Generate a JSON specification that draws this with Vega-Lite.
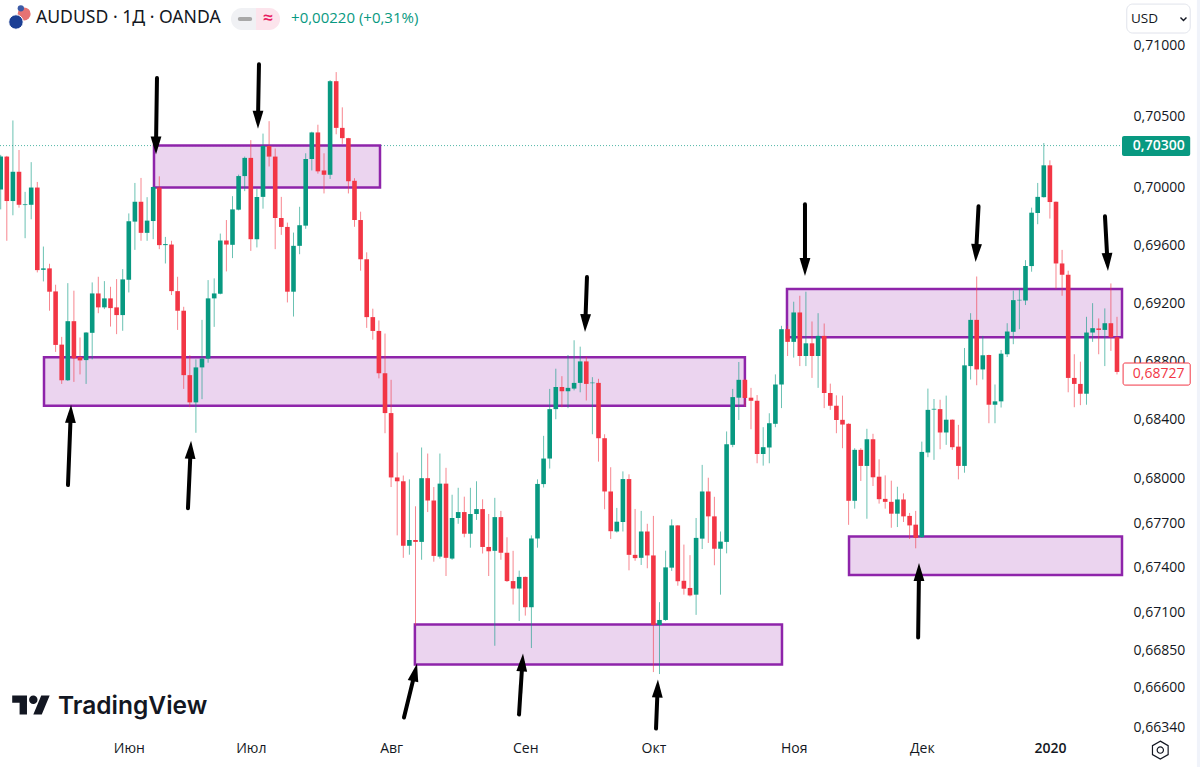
{"$schema":"https://vega.github.io/schema/vega-lite/v6.json","width":1122,"height":736,"autosize":{"type":"none"},"padding":{"left":0,"top":0,"right":78,"bottom":31},"background":"#ffffff","config":{"view":{"stroke":null},"text":{"font":"Open Sans"},"axis":{"labelFont":"Open Sans","labelFontSize":14,"labelColor":"#131722","domain":false,"ticks":false,"grid":false}},
"datasets":{"candles":[
{"i":0,"o":0.69986,"h":0.70228,"l":0.69848,"c":0.70216},{"i":1,"o":0.70216,"h":0.70221,"l":0.6963,"c":0.69906},{"i":2,"o":0.69906,"h":0.70469,"l":0.69807,"c":0.7011},{"i":3,"o":0.7011,"h":0.70262,"l":0.6986,"c":0.6988},{"i":4,"o":0.69878,"h":0.6997,"l":0.69648,"c":0.69883},{"i":5,"o":0.6988,"h":0.70177,"l":0.69779,"c":0.7},{"i":6,"o":0.7,"h":0.70039,"l":0.69411,"c":0.69427},{"i":7,"o":0.69429,"h":0.6959,"l":0.69349,"c":0.69439},{"i":8,"o":0.69439,"h":0.69471,"l":0.69147,"c":0.69278},{"i":9,"o":0.6928,"h":0.69326,"l":0.68864,"c":0.68912},
{"i":10,"o":0.68914,"h":0.68967,"l":0.68645,"c":0.6867},{"i":11,"o":0.6867,"h":0.69337,"l":0.68665,"c":0.69075},{"i":12,"o":0.69075,"h":0.69285,"l":0.68659,"c":0.6882},{"i":13,"o":0.68829,"h":0.68963,"l":0.6871,"c":0.68806},{"i":14,"o":0.68808,"h":0.69,"l":0.68645,"c":0.68997},{"i":15,"o":0.68995,"h":0.69342,"l":0.68813,"c":0.69266},{"i":16,"o":0.69266,"h":0.69381,"l":0.6913,"c":0.6917},{"i":17,"o":0.6917,"h":0.69351,"l":0.69158,"c":0.69232},{"i":18,"o":0.69232,"h":0.69312,"l":0.69038,"c":0.69165},{"i":19,"o":0.6917,"h":0.69365,"l":0.68986,"c":0.69117},
{"i":20,"o":0.69117,"h":0.69434,"l":0.69009,"c":0.69363},{"i":21,"o":0.6936,"h":0.6982,"l":0.69273,"c":0.69765},{"i":22,"o":0.69763,"h":0.70032,"l":0.69567,"c":0.69901},{"i":23,"o":0.69901,"h":0.70067,"l":0.6963,"c":0.69685},{"i":24,"o":0.69685,"h":0.69933,"l":0.6963,"c":0.6977},{"i":25,"o":0.69767,"h":0.70009,"l":0.69641,"c":0.70004},{"i":26,"o":0.7,"h":0.70078,"l":0.69572,"c":0.696},{"i":27,"o":0.696,"h":0.69657,"l":0.69473,"c":0.69607},{"i":28,"o":0.69604,"h":0.6963,"l":0.69255,"c":0.69282},{"i":29,"o":0.69282,"h":0.69381,"l":0.69015,"c":0.69147},
{"i":30,"o":0.69147,"h":0.69174,"l":0.68611,"c":0.68705},{"i":31,"o":0.68705,"h":0.68841,"l":0.68486,"c":0.68519},{"i":32,"o":0.68519,"h":0.68813,"l":0.68312,"c":0.68758},{"i":33,"o":0.68758,"h":0.69084,"l":0.68541,"c":0.68818},{"i":34,"o":0.68818,"h":0.69358,"l":0.6879,"c":0.69232},{"i":35,"o":0.69232,"h":0.6937,"l":0.69036,"c":0.69266},{"i":36,"o":0.69264,"h":0.6968,"l":0.6926,"c":0.69632},{"i":37,"o":0.69632,"h":0.69774,"l":0.69418,"c":0.69604},{"i":38,"o":0.69602,"h":0.6994,"l":0.6951,"c":0.69848},{"i":39,"o":0.69846,"h":0.7009,"l":0.69841,"c":0.7008},
{"i":40,"o":0.7008,"h":0.70216,"l":0.69975,"c":0.70207},{"i":41,"o":0.70207,"h":0.70331,"l":0.6956,"c":0.69641},{"i":42,"o":0.69641,"h":0.69991,"l":0.69584,"c":0.69935},{"i":43,"o":0.69935,"h":0.70377,"l":0.69853,"c":0.7029},{"i":44,"o":0.7029,"h":0.70464,"l":0.70147,"c":0.70216},{"i":45,"o":0.70216,"h":0.70273,"l":0.69572,"c":0.69788},{"i":46,"o":0.69788,"h":0.69935,"l":0.69671,"c":0.69726},{"i":47,"o":0.69726,"h":0.69756,"l":0.69204,"c":0.69278},{"i":48,"o":0.69278,"h":0.69687,"l":0.69107,"c":0.69595},{"i":49,"o":0.69595,"h":0.69866,"l":0.69537,"c":0.69738},
{"i":50,"o":0.69735,"h":0.70239,"l":0.69713,"c":0.70199},{"i":51,"o":0.70199,"h":0.7039,"l":0.70119,"c":0.70385},{"i":52,"o":0.70385,"h":0.70439,"l":0.70097,"c":0.70113},{"i":53,"o":0.70119,"h":0.70239,"l":0.69959,"c":0.70089},{"i":54,"o":0.70089,"h":0.70753,"l":0.7006,"c":0.70745},{"i":55,"o":0.70745,"h":0.70809,"l":0.70372,"c":0.70417},{"i":56,"o":0.70417,"h":0.70561,"l":0.70305,"c":0.70345},{"i":57,"o":0.70345,"h":0.70347,"l":0.69959,"c":0.70044},{"i":58,"o":0.70047,"h":0.70065,"l":0.69727,"c":0.69774},{"i":59,"o":0.69774,"h":0.69832,"l":0.69423,"c":0.69502},
{"i":60,"o":0.69502,"h":0.6955,"l":0.69029,"c":0.69103},{"i":61,"o":0.69103,"h":0.69161,"l":0.68948,"c":0.69008},{"i":62,"o":0.69008,"h":0.6908,"l":0.68683,"c":0.68718},{"i":63,"o":0.68718,"h":0.6899,"l":0.68309,"c":0.68446},{"i":64,"o":0.68446,"h":0.68673,"l":0.67944,"c":0.68009},{"i":65,"o":0.68009,"h":0.68178,"l":0.67618,"c":0.67983},{"i":66,"o":0.67983,"h":0.68022,"l":0.67467,"c":0.67548},{"i":67,"o":0.67548,"h":0.67996,"l":0.67488,"c":0.67587},{"i":68,"o":0.67587,"h":0.67814,"l":0.67015,"c":0.67574},{"i":69,"o":0.67574,"h":0.68212,"l":0.67454,"c":0.68004},
{"i":70,"o":0.68004,"h":0.68171,"l":0.67775,"c":0.67853},{"i":71,"o":0.67853,"h":0.67944,"l":0.67441,"c":0.6748},{"i":72,"o":0.67475,"h":0.68171,"l":0.67462,"c":0.67967},{"i":73,"o":0.67967,"h":0.68074,"l":0.67345,"c":0.67467},{"i":74,"o":0.67462,"h":0.67892,"l":0.67454,"c":0.67735},{"i":75,"o":0.67735,"h":0.67939,"l":0.67696,"c":0.67775},{"i":76,"o":0.67775,"h":0.67879,"l":0.67605,"c":0.67629},{"i":77,"o":0.67629,"h":0.67939,"l":0.67535,"c":0.67762},{"i":78,"o":0.67762,"h":0.67983,"l":0.67722,"c":0.67795},{"i":79,"o":0.67795,"h":0.67861,"l":0.67496,"c":0.6754},
{"i":80,"o":0.6754,"h":0.67762,"l":0.67345,"c":0.67511},{"i":81,"o":0.67514,"h":0.67871,"l":0.66879,"c":0.67741},{"i":82,"o":0.67741,"h":0.67783,"l":0.67454,"c":0.67501},{"i":83,"o":0.67501,"h":0.67605,"l":0.67305,"c":0.67311},{"i":84,"o":0.67311,"h":0.67514,"l":0.67154,"c":0.67261},{"i":85,"o":0.67261,"h":0.67381,"l":0.67044,"c":0.67339},{"i":86,"o":0.67339,"h":0.67341,"l":0.6708,"c":0.67136},{"i":87,"o":0.67136,"h":0.67618,"l":0.66864,"c":0.67597},{"i":88,"o":0.67597,"h":0.67996,"l":0.67535,"c":0.67965},{"i":89,"o":0.67964,"h":0.68291,"l":0.67941,"c":0.68137},
{"i":90,"o":0.68137,"h":0.68611,"l":0.68069,"c":0.68473},{"i":91,"o":0.68473,"h":0.68749,"l":0.68404,"c":0.68624},{"i":92,"o":0.68624,"h":0.68698,"l":0.68486,"c":0.68595},{"i":93,"o":0.68595,"h":0.68843,"l":0.6848,"c":0.68618},{"i":94,"o":0.68613,"h":0.68944,"l":0.68601,"c":0.68652},{"i":95,"o":0.68652,"h":0.689,"l":0.68588,"c":0.68799},{"i":96,"o":0.68799,"h":0.68831,"l":0.68532,"c":0.68645},{"i":97,"o":0.6865,"h":0.68691,"l":0.68302,"c":0.68654},{"i":98,"o":0.68652,"h":0.6868,"l":0.68116,"c":0.68275},{"i":99,"o":0.68275,"h":0.68302,"l":0.67794,"c":0.67914},
{"i":100,"o":0.67914,"h":0.68078,"l":0.67594,"c":0.67646},{"i":101,"o":0.67644,"h":0.67803,"l":0.67637,"c":0.6771},{"i":102,"o":0.67708,"h":0.6805,"l":0.67644,"c":0.67998},{"i":103,"o":0.67998,"h":0.6803,"l":0.67383,"c":0.67487},{"i":104,"o":0.67487,"h":0.67796,"l":0.67447,"c":0.67465},{"i":105,"o":0.67467,"h":0.67783,"l":0.67419,"c":0.67644},{"i":106,"o":0.67644,"h":0.67696,"l":0.67397,"c":0.67483},{"i":107,"o":0.67483,"h":0.67749,"l":0.66704,"c":0.67018},{"i":108,"o":0.67018,"h":0.6717,"l":0.66691,"c":0.67051},{"i":109,"o":0.67051,"h":0.67515,"l":0.67045,"c":0.67403},
{"i":110,"o":0.67401,"h":0.67726,"l":0.67379,"c":0.67685},{"i":111,"o":0.67685,"h":0.67687,"l":0.6728,"c":0.6731},{"i":112,"o":0.67313,"h":0.67556,"l":0.6722,"c":0.6726},{"i":113,"o":0.67265,"h":0.67485,"l":0.67208,"c":0.67215},{"i":114,"o":0.6722,"h":0.67735,"l":0.67085,"c":0.67601},{"i":115,"o":0.67596,"h":0.68094,"l":0.67526,"c":0.67914},{"i":116,"o":0.67914,"h":0.68007,"l":0.67567,"c":0.67746},{"i":117,"o":0.67746,"h":0.67878,"l":0.67417,"c":0.67528},{"i":118,"o":0.67528,"h":0.67644,"l":0.6722,"c":0.67576},{"i":119,"o":0.67574,"h":0.68321,"l":0.67497,"c":0.68234},
{"i":120,"o":0.6823,"h":0.68611,"l":0.68214,"c":0.68555},{"i":121,"o":0.68551,"h":0.68795,"l":0.68399,"c":0.68673},{"i":122,"o":0.68673,"h":0.6868,"l":0.68491,"c":0.68549},{"i":123,"o":0.68551,"h":0.68618,"l":0.68336,"c":0.6853},{"i":124,"o":0.6853,"h":0.68569,"l":0.68105,"c":0.68168},{"i":125,"o":0.68168,"h":0.6835,"l":0.68089,"c":0.68214},{"i":126,"o":0.68212,"h":0.68445,"l":0.68105,"c":0.68377},{"i":127,"o":0.68373,"h":0.6871,"l":0.6835,"c":0.68641},{"i":128,"o":0.68641,"h":0.69043,"l":0.6848,"c":0.6902},{"i":129,"o":0.6902,"h":0.69043,"l":0.68836,"c":0.68933},
{"i":130,"o":0.68933,"h":0.69209,"l":0.68825,"c":0.69135},{"i":131,"o":0.69135,"h":0.6925,"l":0.68767,"c":0.68836},{"i":132,"o":0.68836,"h":0.69278,"l":0.68767,"c":0.68923},{"i":133,"o":0.68923,"h":0.69073,"l":0.68686,"c":0.68836},{"i":134,"o":0.68836,"h":0.6913,"l":0.68618,"c":0.68974},{"i":135,"o":0.68974,"h":0.69059,"l":0.6848,"c":0.68583},{"i":136,"o":0.68583,"h":0.68647,"l":0.68468,"c":0.68496},{"i":137,"o":0.68496,"h":0.68567,"l":0.68309,"c":0.68399},{"i":138,"o":0.684,"h":0.68565,"l":0.68207,"c":0.68368},{"i":139,"o":0.68373,"h":0.68377,"l":0.67689,"c":0.67851},
{"i":140,"o":0.67851,"h":0.68207,"l":0.67798,"c":0.68196},{"i":141,"o":0.68196,"h":0.68207,"l":0.67985,"c":0.68087},{"i":142,"o":0.68087,"h":0.68339,"l":0.6773,"c":0.68268},{"i":143,"o":0.68268,"h":0.68305,"l":0.67951,"c":0.6801},{"i":144,"o":0.68014,"h":0.68132,"l":0.67832,"c":0.67862},{"i":145,"o":0.67864,"h":0.68023,"l":0.67798,"c":0.67844},{"i":146,"o":0.67844,"h":0.67987,"l":0.67669,"c":0.67764},{"i":147,"o":0.67764,"h":0.67946,"l":0.67674,"c":0.6786},{"i":148,"o":0.6786,"h":0.67901,"l":0.67708,"c":0.67746},{"i":149,"o":0.67749,"h":0.67769,"l":0.67594,"c":0.67685},
{"i":150,"o":0.6769,"h":0.67783,"l":0.67531,"c":0.67601},{"i":151,"o":0.67606,"h":0.68252,"l":0.67601,"c":0.68182},{"i":152,"o":0.68178,"h":0.68613,"l":0.68146,"c":0.68468},{"i":153,"o":0.6847,"h":0.68542,"l":0.68128,"c":0.68475},{"i":154,"o":0.68473,"h":0.68537,"l":0.682,"c":0.68314},{"i":155,"o":0.68314,"h":0.68565,"l":0.6823,"c":0.68401},{"i":156,"o":0.68401,"h":0.68403,"l":0.68196,"c":0.68214},{"i":157,"o":0.68218,"h":0.68366,"l":0.67996,"c":0.68087},{"i":158,"o":0.68087,"h":0.68891,"l":0.68041,"c":0.68772},{"i":159,"o":0.68767,"h":0.6913,"l":0.68675,"c":0.69084},
{"i":160,"o":0.69084,"h":0.69383,"l":0.68636,"c":0.68744},{"i":161,"o":0.68744,"h":0.68974,"l":0.68675,"c":0.68841},{"i":162,"o":0.68843,"h":0.68845,"l":0.68377,"c":0.68503},{"i":163,"o":0.68503,"h":0.68641,"l":0.68377,"c":0.68526},{"i":164,"o":0.68526,"h":0.68877,"l":0.68484,"c":0.68852},{"i":165,"o":0.68848,"h":0.69061,"l":0.68829,"c":0.69004},{"i":166,"o":0.69002,"h":0.69285,"l":0.68917,"c":0.6922},{"i":167,"o":0.69218,"h":0.69296,"l":0.6902,"c":0.69222},{"i":168,"o":0.69218,"h":0.69496,"l":0.69186,"c":0.69455},{"i":169,"o":0.69455,"h":0.6986,"l":0.69416,"c":0.69825},
{"i":170,"o":0.69823,"h":0.70032,"l":0.69745,"c":0.69935},{"i":171,"o":0.69933,"h":0.70311,"l":0.6993,"c":0.70155},{"i":172,"o":0.70155,"h":0.7019,"l":0.69784,"c":0.69899},{"i":173,"o":0.69901,"h":0.69903,"l":0.69296,"c":0.69473},{"i":174,"o":0.69473,"h":0.69567,"l":0.6925,"c":0.69395},{"i":175,"o":0.69395,"h":0.69423,"l":0.68588,"c":0.68686},{"i":176,"o":0.68686,"h":0.68848,"l":0.68486,"c":0.68645},{"i":177,"o":0.68645,"h":0.68797,"l":0.685,"c":0.68578},{"i":178,"o":0.68578,"h":0.69105,"l":0.68503,"c":0.68997},{"i":179,"o":0.68997,"h":0.69199,"l":0.68933,"c":0.69027},
{"i":180,"o":0.69025,"h":0.69094,"l":0.68848,"c":0.69015},{"i":181,"o":0.69015,"h":0.69163,"l":0.68767,"c":0.69061},{"i":182,"o":0.69061,"h":0.69335,"l":0.68871,"c":0.68965},{"i":183,"o":0.68965,"h":0.69105,"l":0.6871,"c":0.68727}],
"boxes":[{"i":25.13,"i2":62.18,"p":0.70293,"p2":0.7},{"i":7.1,"i2":122,"p":0.68827,"p2":0.68496},{"i":128.9,"i2":183.82,"p":0.69296,"p2":0.68965},{"i":139.07,"i2":183.82,"p":0.6761,"p2":0.67351},{"i":67.9,"i2":128.08,"p":0.6702,"p2":0.66755}],
"arrows":[{"i":25.62,"p":0.70767,"i2":25.46,"p2":0.70293},{"i":42.34,"p":0.70864,"i2":42.18,"p2":0.70474},{"i":11.03,"p":0.67957,"i2":11.48,"p2":0.68441},{"i":30.7,"p":0.67801,"i2":31.13,"p2":0.68196},{"i":66.11,"p":0.66403,"i2":67.92,"p2":0.66702},{"i":84.97,"p":0.66423,"i2":85.52,"p2":0.66768},{"i":107.43,"p":0.6633,"i2":107.69,"p2":0.66595},{"i":96.11,"p":0.69379,"i2":95.84,"p2":0.69062},{"i":131.85,"p":0.69883,"i2":131.85,"p2":0.69448},{"i":160.3,"p":0.69869,"i2":159.9,"p2":0.69545},{"i":181.03,"p":0.698,"i2":181.44,"p2":0.69483},{"i":150.4,"p":0.66934,"i2":150.54,"p2":0.67372}],
"heads":[{"i":25.46,"p":0.70293,"dir":180},{"i":42.18,"p":0.70474,"dir":180},{"i":11.48,"p":0.68441,"dir":2},{"i":31.13,"p":0.68196,"dir":3},{"i":67.92,"p":0.66702,"dir":13},{"i":85.52,"p":0.66768,"dir":4},{"i":107.69,"p":0.66595,"dir":2},{"i":95.84,"p":0.69062,"dir":182},{"i":131.85,"p":0.69448,"dir":180},{"i":159.9,"p":0.69545,"dir":183},{"i":181.44,"p":0.69483,"dir":177},{"i":150.54,"p":0.67372,"dir":0}]},
"encoding":{"x":{"field":"i","type":"quantitative","scale":{"domain":[-0.115,183.82],"nice":false,"zero":false,"padding":0},"axis":{"orient":"bottom","title":null,"values":[21,41,64,86,107,130,151,172],"labelExpr":"datum.value==21?'Июн':datum.value==41?'Июл':datum.value==64?'Авг':datum.value==86?'Сен':datum.value==107?'Окт':datum.value==130?'Ноя':datum.value==151?'Дек':'2020'","labelPadding":5,"labelOverlap":false,"labelFlush":false,"labelBound":false,"labelFontWeight":{"condition":{"test":"datum.value==172","value":600},"value":400}}},"y":{"field":"p","type":"quantitative","scale":{"type":"log","domain":[0.66281,0.71319],"nice":false,"zero":false},"axis":{"orient":"right","title":null,"values":[0.71,0.705,0.7,0.696,0.692,0.688,0.684,0.68,0.677,0.674,0.671,0.6685,0.666,0.6634],"labelExpr":"replace(format(datum.value,'.5f'),'.',',')","labelPadding":11,"labelAlign":"left","labelOverlap":false,"labelBound":false}}},
"layer":[
{"data":{"values":[{"i":-0.115,"i2":183.82,"p":0.70293}]},"mark":{"type":"rule","color":"#089981","strokeDash":[1,2],"strokeWidth":1,"opacity":0.7},"encoding":{"x2":{"field":"i2"}}},
{"data":{"name":"boxes"},"mark":{"type":"rect","fill":"#9c27b0","fillOpacity":0.2,"stroke":"#8e24aa","strokeWidth":2.5},"encoding":{"x2":{"field":"i2"},"y2":{"field":"p2"}}},
{"data":{"name":"candles"},"mark":{"type":"rule","strokeWidth":1,"opacity":0.6},"encoding":{"y":{"field":"h","type":"quantitative","scale":{"type":"log","domain":[0.66281,0.71319],"nice":false,"zero":false},"axis":{"orient":"right","title":null,"values":[0.71,0.705,0.7,0.696,0.692,0.688,0.684,0.68,0.677,0.674,0.671,0.6685,0.666,0.6634],"labelExpr":"replace(format(datum.value,'.5f'),'.',',')","labelPadding":11,"labelAlign":"left","labelOverlap":false,"labelBound":false}},"y2":{"field":"l"},"color":{"condition":{"test":"datum.c>=datum.o","value":"#089981"},"value":"#f23645"}}},
{"data":{"name":"candles"},"mark":{"type":"bar","orient":"vertical","size":4.6},"encoding":{"y":{"field":"o","type":"quantitative","scale":{"type":"log","domain":[0.66281,0.71319],"nice":false,"zero":false},"axis":{"orient":"right","title":null,"values":[0.71,0.705,0.7,0.696,0.692,0.688,0.684,0.68,0.677,0.674,0.671,0.6685,0.666,0.6634],"labelExpr":"replace(format(datum.value,'.5f'),'.',',')","labelPadding":11,"labelAlign":"left","labelOverlap":false,"labelBound":false}},"y2":{"field":"c"},"color":{"condition":{"test":"datum.c>=datum.o","value":"#089981"},"value":"#f23645"}}},
{"data":{"name":"arrows"},"mark":{"type":"rule","color":"#000000","strokeWidth":4,"strokeCap":"round"},"encoding":{"x2":{"field":"i2"},"y2":{"field":"p2"}}},
{"data":{"name":"heads"},"mark":{"type":"point","shape":"M0,-1L.6,1L-.6,1Z","filled":true,"size":324,"color":"#000000","opacity":1},"encoding":{"angle":{"field":"dir","type":"quantitative","scale":null}}},
{"data":{"values":[{"i":183.82,"i2":195,"p":0.7036,"p2":0.7022}]},"mark":{"type":"rect","fill":"#089981","cornerRadius":2},"encoding":{"x2":{"field":"i2"},"y2":{"field":"p2"}}},
{"data":{"values":[{"i":184,"i2":195,"p":0.68788,"p2":0.68637}]},"mark":{"type":"rect","fill":"#ffffff","stroke":"#f23645","strokeWidth":1,"cornerRadius":2},"encoding":{"x2":{"field":"i2"},"y2":{"field":"p2"}}},
{"data":{"values":[{"i":185.6,"p":0.70293,"t":"0,70300"}]},"mark":{"type":"text","align":"left","baseline":"middle","fontSize":14,"fontWeight":600,"color":"#ffffff"},"encoding":{"text":{"field":"t"}}},
{"data":{"values":[{"i":185.6,"p":0.68712,"t":"0,68727"}]},"mark":{"type":"text","align":"left","baseline":"middle","fontSize":14,"color":"#f23645"},"encoding":{"text":{"field":"t"}}},
{"data":{"values":[{"i":196.1,"i2":197,"p":0.71319,"p2":0.65}]},"mark":{"type":"rect","fill":"#f0f3fa"},"encoding":{"x2":{"field":"i2"},"y2":{"field":"p2"}}},
{"data":{"values":[{"i":184.6,"i2":195,"p":0.7129,"p2":0.71085}]},"mark":{"type":"rect","fill":"#ffffff","stroke":"#e0e3eb","strokeWidth":1,"cornerRadius":6},"encoding":{"x2":{"field":"i2"},"y2":{"field":"p2"}}},
{"data":{"values":[{"i":185.3,"p":0.71184,"t":"USD"}]},"mark":{"type":"text","align":"left","baseline":"middle","fontSize":13.5,"color":"#131722"},"encoding":{"text":{"field":"t"}}},
{"data":{"values":[{"i":193.9,"p":0.71184}]},"mark":{"type":"point","shape":"M-1,-.5L0,.5L1,-.5","filled":false,"size":36,"color":"#131722","strokeWidth":1.4,"opacity":1}},
{"data":{"values":[{"i":190.1,"p":0.66188}]},"mark":{"type":"point","shape":"M0,-1L.87,-.5L.87,.5L0,1L-.87,.5L-.87,-.5ZM.35,0A.35,.35 0 1 0 -.35,0A.35,.35 0 1 0 .35,0Z","filled":false,"size":324,"color":"#131722","strokeWidth":1.2,"opacity":1}},
{"data":{"values":[{"i":3.84,"p":0.7122}]},"mark":{"type":"point","shape":"circle","filled":true,"size":169,"color":"#e57373","opacity":1}},
{"data":{"values":[{"i":3.3,"p":0.7126}]},"mark":{"type":"point","shape":"circle","filled":true,"size":40,"color":"#3c5aa6","opacity":1}},
{"data":{"values":[{"i":2.5,"p":0.71163}]},"mark":{"type":"point","shape":"circle","filled":true,"size":210,"color":"#1c3f94","opacity":1,"stroke":"#ffffff","strokeWidth":1}},
{"data":{"values":[{"i":5.79,"p":0.71191,"t":"AUDUSD · 1Д · OANDA"}]},"mark":{"type":"text","align":"left","baseline":"middle","fontSize":17.6,"font":"Noto Sans","color":"#131722"},"encoding":{"text":{"field":"t"}}},
{"data":{"values":[{"i":37.75,"i2":41.85,"p":0.71262,"p2":0.71106}]},"mark":{"type":"rect","fill":"#f0f1f4","cornerRadiusTopLeft":11,"cornerRadiusBottomLeft":11},"encoding":{"x2":{"field":"i2"},"y2":{"field":"p2"}}},
{"data":{"values":[{"i":41.85,"i2":45.8,"p":0.71262,"p2":0.71106}]},"mark":{"type":"rect","fill":"#fce4ec","cornerRadiusTopRight":11,"cornerRadiusBottomRight":11},"encoding":{"x2":{"field":"i2"},"y2":{"field":"p2"}}},
{"data":{"values":[{"i":39.2,"i2":40.9,"p":0.71184}]},"mark":{"type":"rule","color":"#a8a8a8","strokeWidth":4,"strokeCap":"round"},"encoding":{"x2":{"field":"i2"}}},
{"data":{"values":[{"i":43.8,"p":0.71184,"t":"≈"}]},"mark":{"type":"text","align":"center","baseline":"middle","fontSize":18,"fontWeight":600,"color":"#e91e63"},"encoding":{"text":{"field":"t"}}},
{"data":{"values":[{"i":47.6,"p":0.71191,"t":"+0,00220 (+0,31%)"}]},"mark":{"type":"text","align":"left","baseline":"middle","fontSize":15,"color":"#089981"},"encoding":{"text":{"field":"t"}}},
{"data":{"values":[{"i":5,"p":0.66479}]},"mark":{"type":"point","shape":"M-.222,.444L-.611,.444L-.611,-.167L-1,-.167L-1,-.556L-.222,-.556ZM.556,.444L.111,.444L.528,-.556L.972,-.556ZM-.111,-.333A.222,.222 0 1 0 .333,-.333A.222,.222 0 1 0 -.111,-.333Z","filled":true,"size":1444,"color":"#131722","opacity":1}},
{"data":{"values":[{"i":9.39,"p":0.66472,"t":"TradingView"}]},"mark":{"type":"text","align":"left","baseline":"middle","fontSize":24.5,"fontWeight":600,"font":"Inter","color":"#131722"},"encoding":{"text":{"field":"t"}}}
]}
